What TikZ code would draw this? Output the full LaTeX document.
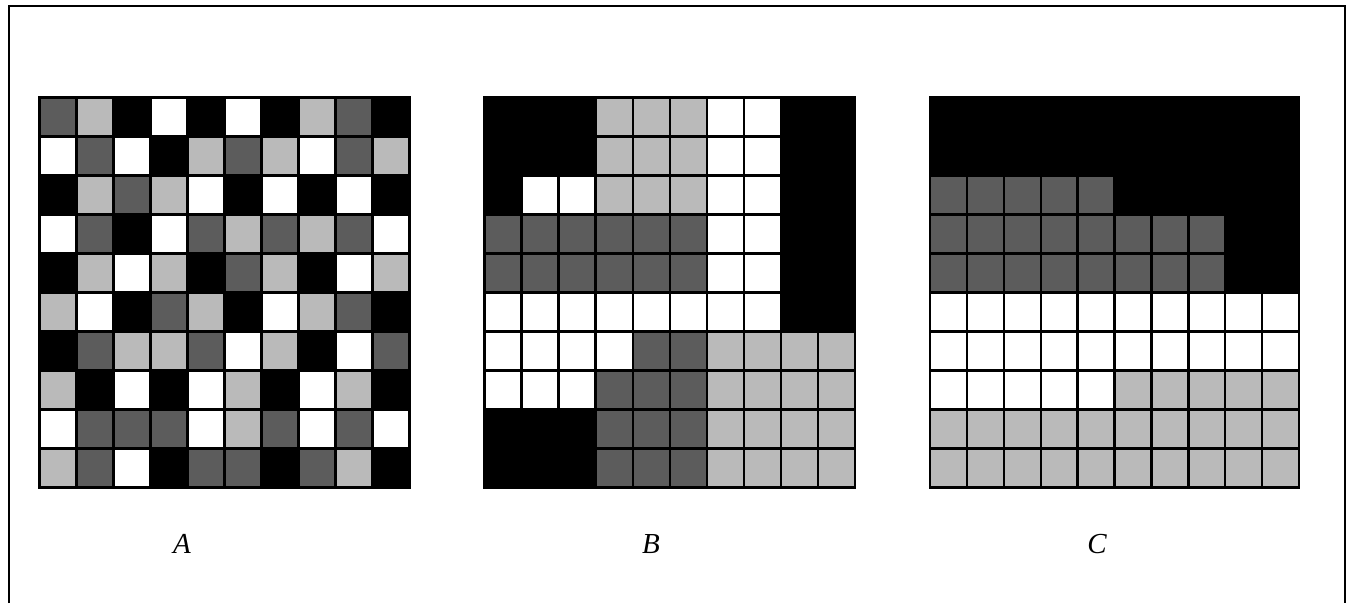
\documentclass[tikz,border=0pt]{standalone}
\usepackage{fontspec}
\setmainfont{Liberation Serif}
\definecolor{cK}{gray}{0}
\definecolor{cD}{gray}{0.36}
\definecolor{cL}{gray}{0.73}
\definecolor{cW}{gray}{1}
\tikzset{
  cell/.style={draw=black, line width=2.4pt},
  gridborder/.style={draw=black, line width=2.6pt},
  frameline/.style={draw=black, line width=2.4pt},
  gridlabel/.style={font=\fontsize{29}{32}\selectfont\itshape, inner sep=0pt}
}
\begin{document}
\begin{tikzpicture}[x=1pt,y=-1pt]
\useasboundingbox (0,0) rectangle (1351,603);
\fill[white] (0,0) rectangle (1351,603);
% outer frame (open at bottom)
\draw[frameline] (9,603) -- (9,6) -- (1345,6) -- (1345,603);
% Grid A
\def\gx{39.5}\def\gy{97.5}\def\cw{37}\def\ch{39}
\foreach \row [count=\r from 0] in {
 {D,L,K,W,K,W,K,L,D,K},
 {W,D,W,K,L,D,L,W,D,L},
 {K,L,D,L,W,K,W,K,W,K},
 {W,D,K,W,D,L,D,L,D,W},
 {K,L,W,L,K,D,L,K,W,L},
 {L,W,K,D,L,K,W,L,D,K},
 {K,D,L,L,D,W,L,K,W,D},
 {L,K,W,K,W,L,K,W,L,K},
 {W,D,D,D,W,L,D,W,D,W},
 {L,D,W,K,D,D,K,D,L,K}}{
  \foreach \c [count=\k from 0] in \row {
    \path[cell, fill=c\c] (\gx+\k*\cw, \gy+\r*\ch) rectangle ++(\cw,\ch);
  }
}
\draw[gridborder] (39.5,97.5) rectangle (409.5,487.5);
% Grid B
\def\bx{484.5}\def\bw{37.05}
\foreach \row [count=\r from 0] in {
 {K,K,K,L,L,L,W,W,K,K},
 {K,K,K,L,L,L,W,W,K,K},
 {K,W,W,L,L,L,W,W,K,K},
 {D,D,D,D,D,D,W,W,K,K},
 {D,D,D,D,D,D,W,W,K,K},
 {W,W,W,W,W,W,W,W,K,K},
 {W,W,W,W,D,D,L,L,L,L},
 {W,W,W,D,D,D,L,L,L,L},
 {K,K,K,D,D,D,L,L,L,L},
 {K,K,K,D,D,D,L,L,L,L}}{
  \foreach \c [count=\k from 0] in \row {
    \path[cell, fill=c\c] (\bx+\k*\bw, \gy+\r*\ch) rectangle ++(\bw,\ch);
  }
}
\draw[gridborder] (484.5,97.5) rectangle (855,487.5);
% Grid C
\def\qx{930}\def\qw{36.9}
\foreach \row [count=\r from 0] in {
 {K,K,K,K,K,K,K,K,K,K},
 {K,K,K,K,K,K,K,K,K,K},
 {D,D,D,D,D,K,K,K,K,K},
 {D,D,D,D,D,D,D,D,K,K},
 {D,D,D,D,D,D,D,D,K,K},
 {W,W,W,W,W,W,W,W,W,W},
 {W,W,W,W,W,W,W,W,W,W},
 {W,W,W,W,W,L,L,L,L,L},
 {L,L,L,L,L,L,L,L,L,L},
 {L,L,L,L,L,L,L,L,L,L}}{
  \foreach \c [count=\k from 0] in \row {
    \path[cell, fill=c\c] (\qx+\k*\qw, \gy+\r*\ch) rectangle ++(\qw,\ch);
  }
}
\draw[gridborder] (930,97.5) rectangle (1299,487.5);
% labels
\node[gridlabel] (labA) at (182,544) {A};
\node[gridlabel] (labB) at (651,544) {B};
\node[gridlabel] (labC) at (1097,544) {C};
\end{tikzpicture}
\end{document}
